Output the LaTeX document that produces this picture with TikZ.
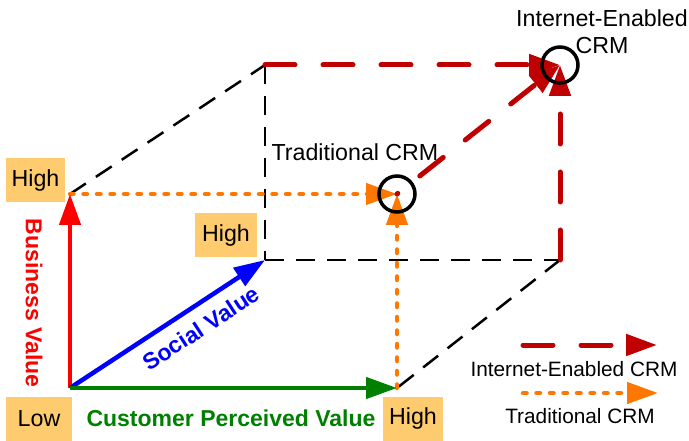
\documentclass[tikz,border=0pt]{standalone}
\usepackage{fontspec}
\setmainfont{Liberation Sans}
\usetikzlibrary{arrows.meta}
\definecolor{boxfill}{RGB}{254,203,110}
\definecolor{crmred}{RGB}{192,0,0}
\definecolor{crmorange}{RGB}{255,119,0}
\definecolor{axisgreen}{RGB}{0,128,0}
\begin{document}
\begin{tikzpicture}[x=1pt,y=-1pt,
  bigtxt/.style={font=\fontsize{23.2}{27}\selectfont},
  smalltxt/.style={font=\fontsize{20.8}{24}\selectfont},
  boldtxt/.style={font=\fontsize{23}{27}\selectfont\bfseries},
  headarrow/.style={-{Triangle[length=31pt,width=21pt]}},
  edge/.style={black,line width=2.5pt,dash pattern=on 19pt off 12pt},
  inet/.style={crmred,line width=5pt,line cap=round,dash pattern=on 30pt off 28pt,headarrow},
  trad/.style={crmorange,line width=4.5pt,line cap=round,dash pattern=on 3.5pt off 10pt,headarrow},
  axis/.style={line width=4.5pt,headarrow},
  level/.style={bigtxt,fill=boxfill,inner sep=0pt,minimum height=44pt},
  ring/.style={draw=black,circle,line width=3.5pt,minimum size=36pt,inner sep=0pt}]
\useasboundingbox (0,0) rectangle (689,441);

% cube corners
\coordinate (O)  at (70,388);
\coordinate (FTL) at (70,194);
\coordinate (FBR) at (397,388);
\coordinate (T)  at (397,194);
\coordinate (BBL) at (265,260);
\coordinate (BTL) at (265,65);
\coordinate (BBR) at (560,260);
\coordinate (I)  at (560,65);

% hidden cube edges
\draw[edge] (FTL) -- (BTL);
\draw[edge] (BTL) -- (BBL);
\draw[edge] (BBL) -- (BBR);
\draw[edge] (BBR) -- (FBR);

% traditional CRM path
\draw[trad] (FTL) -- (T);
\draw[trad] (FBR) -- (T);

% internet-enabled CRM paths
\draw[inet] (BTL) -- (I);
\draw[inet] (BBR) -- (I);
\draw[inet,dash phase=29pt] (T) -- (I);

% points
\node[ring] (tring) at (T) {};
\node[ring] (iring) at (I) {};

% axes
\draw[axis,red] (O) -- (FTL);
\draw[axis,blue] (O) -- (BBL);
\draw[axis,axisgreen] (O) -- (FBR);

% axis levels
\node[level,minimum width=59pt] (hbiz) at (35.5,180.5) {High};
\node[level,minimum width=62pt] (hsoc) at (226,235.5) {High};
\node[level,minimum width=66pt] (low) at (39,418.5) {Low};
\node[level,minimum width=60pt] (hcus) at (413,418.5) {High};

% axis names
\node[boldtxt,red,rotate=-90] (biz) at (34,303) {Business Value};
\node[boldtxt,blue,rotate=33.3] (soc) at (201,328) {Social Value};
\node[boldtxt,axisgreen] (cus) at (231,418) {Customer Perceived Value};

% point labels
\node[bigtxt] (tlab) at (355,152) {Traditional CRM};
\node[bigtxt,align=center] (ilab) at (602,32) {Internet-Enabled\\CRM};

% legend
\coordinate (la) at (523,345);
\coordinate (lb) at (657,345);
\coordinate (lc) at (523,393);
\coordinate (ld) at (658,393);
\draw[inet] (la) -- (lb);
\draw[trad] (lc) -- (ld);
\node[smalltxt] (linet) at (574,369) {Internet-Enabled CRM};
\node[smalltxt] (ltrad) at (580,416) {Traditional CRM};
\end{tikzpicture}
\end{document}
